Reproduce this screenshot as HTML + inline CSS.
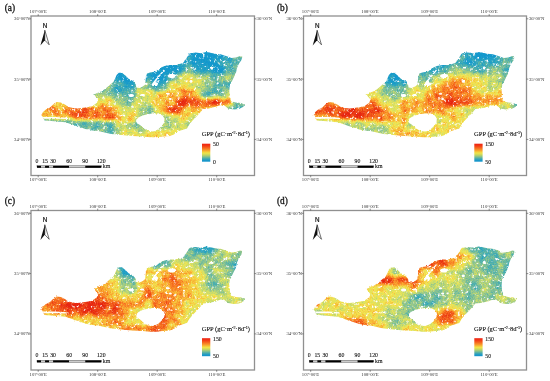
<!DOCTYPE html>
<html><head><meta charset="utf-8"><style>
html,body{margin:0;padding:0;background:#fff;width:550px;height:381px;overflow:hidden}
svg{display:block;will-change:transform}
.t{font-family:"Liberation Serif",serif;font-size:4.7px;fill:#333}
.s{font-family:"Liberation Serif",serif;font-size:5.8px;fill:#111;stroke:#111;stroke-width:0.1px}
</style></head><body>
<svg width="550" height="381" viewBox="0 0 550 381">
<defs>
<filter id="rough" filterUnits="userSpaceOnUse" x="0" y="0" width="550" height="381"><feTurbulence type="fractalNoise" baseFrequency="0.5" numOctaves="2" seed="7" result="n"/><feDisplacementMap in="SourceGraphic" in2="n" scale="2.5" xChannelSelector="R" yChannelSelector="G"/></filter>
<mask id="mapclip" maskUnits="userSpaceOnUse" x="0" y="0" width="550" height="381"><path fill="#fff" fill-rule="evenodd" filter="url(#rough)" d="M41.3,115.2 L43.0,112.0 L45.6,109.7 L50.0,107.5 L53.3,104.3 L56.5,102.0 L61.0,102.6 L65.3,104.8 L68.5,107.0 L73.0,108.0 L77.3,108.6 L81.6,108.0 L85.0,107.6 L91.5,106.5 L97.0,102.7 L98.0,99.5 L95.4,96.2 L94.3,94.5 L97.0,93.0 L101.4,91.3 L105.7,88.5 L110.0,84.7 L113.4,82.0 L115.0,78.7 L116.6,75.0 L118.8,72.7 L122.0,72.7 L125.4,75.5 L128.6,78.7 L133.0,81.0 L135.7,84.2 L136.3,87.5 L139.5,88.0 L142.8,86.4 L145.0,84.7 L146.0,76.8 L147.0,73.5 L150.0,72.5 L155.8,71.4 L160.0,68.0 L164.5,66.0 L170.0,65.0 L176.0,65.0 L183.0,63.0 L186.0,59.0 L189.0,54.0 L190.0,53.2 L195.5,52.6 L201.0,53.2 L206.0,52.0 L209.6,52.6 L215.0,53.7 L220.5,54.3 L226.0,56.0 L231.5,58.0 L236.0,57.5 L240.0,56.0 L242.4,56.5 L241.3,60.3 L239.0,63.5 L237.0,68.0 L235.8,73.4 L233.6,77.7 L231.5,82.0 L229.8,85.5 L229.3,91.0 L229.8,96.4 L231.0,101.3 L235.8,102.4 L241.3,103.0 L244.0,104.5 L243.5,106.7 L239.0,109.0 L233.6,109.5 L228.0,108.4 L223.8,105.0 L219.5,105.6 L214.0,107.3 L208.5,108.4 L203.0,109.0 L201.0,111.6 L197.0,116.0 L193.0,120.0 L189.3,124.6 L187.0,128.5 L180.5,130.6 L176.0,132.3 L174.0,134.5 L169.6,136.0 L163.0,136.6 L156.5,137.2 L150.0,137.2 L142.7,136.5 L131.8,136.0 L121.0,135.0 L110.0,133.8 L98.0,131.0 L92.5,130.5 L87.0,129.4 L81.6,127.7 L76.2,126.0 L70.7,124.0 L65.3,122.3 L54.4,121.2 L44.5,120.6 L43.5,118.5 L42.4,116.3 Z M135.5,120.5 L138.5,117.5 L142.5,115.5 L147.5,114.2 L152.5,113.4 L158.5,113.4 L162.5,115.5 L164.5,118.5 L164.2,122.5 L162.0,125.8 L158.0,129.5 L153.0,131.6 L148.0,131.0 L144.0,128.5 L140.0,125.0 L137.0,123.0 Z M43.0,117.0 L55.0,117.0 L67.0,117.7 L67.0,119.0 L55.0,118.8 L43.0,118.8 Z M163.8,69.6 L164.6,70.4 L158.0,78.5 L155.5,82.0 L158.5,83.0 L157.0,86.0 L152.5,86.0 L151.5,84.5 L154.5,80.5 Z M176.4,76.0 L175.6,77.2 L173.4,77.9 L170.6,77.9 L168.4,77.2 L167.6,76.0 L168.4,74.8 L170.6,74.1 L173.4,74.1 L175.6,74.8 Z M193.9,67.6 L193.6,68.2 L192.7,68.6 L191.7,68.6 L190.8,68.2 L190.5,67.6 L190.8,67.0 L191.7,66.6 L192.7,66.6 L193.6,67.0 Z M192.6,81.3 L192.3,82.2 L191.5,82.7 L190.5,82.7 L189.7,82.2 L189.4,81.3 L189.7,80.4 L190.5,79.9 L191.5,79.9 L192.3,80.4 Z M169.9,93.8 L169.6,94.4 L168.7,94.8 L167.7,94.8 L166.8,94.4 L166.5,93.8 L166.8,93.2 L167.7,92.8 L168.7,92.8 L169.6,93.2 Z M145.0,95.0 L144.5,95.6 L143.3,96.0 L141.7,96.0 L140.5,95.6 L140.0,95.0 L140.5,94.4 L141.7,94.0 L143.3,94.0 L144.5,94.4 Z M171.9,99.0 L171.6,99.6 L170.8,100.0 L169.8,100.0 L169.0,99.6 L168.7,99.0 L169.0,98.4 L169.8,98.0 L170.8,98.0 L171.6,98.4 Z M213.6,68.0 L213.3,68.9 L212.5,69.5 L211.5,69.5 L210.7,68.9 L210.4,68.0 L210.7,67.1 L211.5,66.5 L212.5,66.5 L213.3,67.1 Z M226.0,64.7 L225.8,65.3 L225.1,65.7 L224.3,65.7 L223.6,65.3 L223.4,64.7 L223.6,64.1 L224.3,63.7 L225.1,63.7 L225.8,64.1 Z M134.0,95.5 L133.5,96.4 L132.1,96.9 L130.5,96.9 L129.1,96.4 L128.6,95.5 L129.1,94.6 L130.5,94.1 L132.1,94.1 L133.5,94.6 Z"/></mask>
<linearGradient id="cbar" x1="0" y1="0" x2="0" y2="1"><stop offset="0" stop-color="rgb(238, 32, 18)"/><stop offset="0.12" stop-color="rgb(242, 60, 22)"/><stop offset="0.25" stop-color="rgb(246, 110, 32)"/><stop offset="0.37" stop-color="rgb(248, 160, 45)"/><stop offset="0.46" stop-color="rgb(245, 205, 60)"/><stop offset="0.52" stop-color="rgb(240, 228, 72)"/><stop offset="0.62" stop-color="rgb(200, 215, 95)"/><stop offset="0.72" stop-color="rgb(140, 195, 135)"/><stop offset="0.83" stop-color="rgb(70, 170, 175)"/><stop offset="0.93" stop-color="rgb(25, 152, 200)"/><stop offset="1" stop-color="rgb(20, 148, 205)"/></linearGradient>
<filter id="cma" filterUnits="userSpaceOnUse" x="0" y="0" width="550" height="381" color-interpolation-filters="sRGB">
<feGaussianBlur in="SourceGraphic" stdDeviation="2" result="v"/>
<feTurbulence type="fractalNoise" baseFrequency="0.15" numOctaves="2" seed="97" result="n1r"/>
<feColorMatrix in="n1r" type="matrix" values="1 0 0 0 0 1 0 0 0 0 1 0 0 0 0 0 0 0 0 1" result="n1"/>
<feTurbulence type="fractalNoise" baseFrequency="0.8" numOctaves="1" seed="107" result="n2r"/>
<feColorMatrix in="n2r" type="matrix" values="1 0 0 0 0 1 0 0 0 0 1 0 0 0 0 0 0 0 0 1" result="n2"/>
<feComposite in="v" in2="n1" operator="arithmetic" k1="0" k2="1" k3="0.35" k4="-0.175" result="v1"/>
<feComposite in="v1" in2="n2" operator="arithmetic" k1="0" k2="1" k3="0.3" k4="-0.15" result="v2"/>
<feComponentTransfer in="v2" result="col">
<feFuncR type="table" tableValues="0.071 0.157 0.333 0.549 0.792 0.949 0.973 0.976 0.941 0.902"/>
<feFuncG type="table" tableValues="0.596 0.639 0.698 0.769 0.863 0.902 0.718 0.510 0.306 0.149"/>
<feFuncB type="table" tableValues="0.808 0.765 0.667 0.569 0.424 0.322 0.212 0.149 0.098 0.071"/>
<feFuncA type="linear" slope="0" intercept="1"/>
</feComponentTransfer>
<feTurbulence type="fractalNoise" baseFrequency="0.35" numOctaves="2" seed="117" result="n3r"/>
<feColorMatrix in="n3r" type="matrix" values="0 0 0 0 1 0 0 0 0 1 0 0 0 0 1 5 0 0 0 -3.0" result="spk"/>
<feMerge><feMergeNode in="col"/><feMergeNode in="spk"/></feMerge>
</filter><filter id="cmb" filterUnits="userSpaceOnUse" x="0" y="0" width="550" height="381" color-interpolation-filters="sRGB">
<feGaussianBlur in="SourceGraphic" stdDeviation="2" result="v"/>
<feTurbulence type="fractalNoise" baseFrequency="0.15" numOctaves="2" seed="98" result="n1r"/>
<feColorMatrix in="n1r" type="matrix" values="1 0 0 0 0 1 0 0 0 0 1 0 0 0 0 0 0 0 0 1" result="n1"/>
<feTurbulence type="fractalNoise" baseFrequency="0.8" numOctaves="1" seed="108" result="n2r"/>
<feColorMatrix in="n2r" type="matrix" values="1 0 0 0 0 1 0 0 0 0 1 0 0 0 0 0 0 0 0 1" result="n2"/>
<feComposite in="v" in2="n1" operator="arithmetic" k1="0" k2="1" k3="0.35" k4="-0.175" result="v1"/>
<feComposite in="v1" in2="n2" operator="arithmetic" k1="0" k2="1" k3="0.3" k4="-0.15" result="v2"/>
<feComponentTransfer in="v2" result="col">
<feFuncR type="table" tableValues="0.071 0.157 0.333 0.549 0.792 0.949 0.973 0.976 0.941 0.902"/>
<feFuncG type="table" tableValues="0.596 0.639 0.698 0.769 0.863 0.902 0.718 0.510 0.306 0.149"/>
<feFuncB type="table" tableValues="0.808 0.765 0.667 0.569 0.424 0.322 0.212 0.149 0.098 0.071"/>
<feFuncA type="linear" slope="0" intercept="1"/>
</feComponentTransfer>
<feTurbulence type="fractalNoise" baseFrequency="0.35" numOctaves="2" seed="118" result="n3r"/>
<feColorMatrix in="n3r" type="matrix" values="0 0 0 0 1 0 0 0 0 1 0 0 0 0 1 5 0 0 0 -3.0" result="spk"/>
<feMerge><feMergeNode in="col"/><feMergeNode in="spk"/></feMerge>
</filter><filter id="cmc" filterUnits="userSpaceOnUse" x="0" y="0" width="550" height="381" color-interpolation-filters="sRGB">
<feGaussianBlur in="SourceGraphic" stdDeviation="2" result="v"/>
<feTurbulence type="fractalNoise" baseFrequency="0.15" numOctaves="2" seed="99" result="n1r"/>
<feColorMatrix in="n1r" type="matrix" values="1 0 0 0 0 1 0 0 0 0 1 0 0 0 0 0 0 0 0 1" result="n1"/>
<feTurbulence type="fractalNoise" baseFrequency="0.8" numOctaves="1" seed="109" result="n2r"/>
<feColorMatrix in="n2r" type="matrix" values="1 0 0 0 0 1 0 0 0 0 1 0 0 0 0 0 0 0 0 1" result="n2"/>
<feComposite in="v" in2="n1" operator="arithmetic" k1="0" k2="1" k3="0.35" k4="-0.175" result="v1"/>
<feComposite in="v1" in2="n2" operator="arithmetic" k1="0" k2="1" k3="0.3" k4="-0.15" result="v2"/>
<feComponentTransfer in="v2" result="col">
<feFuncR type="table" tableValues="0.071 0.157 0.333 0.549 0.792 0.949 0.973 0.976 0.941 0.902"/>
<feFuncG type="table" tableValues="0.596 0.639 0.698 0.769 0.863 0.902 0.718 0.510 0.306 0.149"/>
<feFuncB type="table" tableValues="0.808 0.765 0.667 0.569 0.424 0.322 0.212 0.149 0.098 0.071"/>
<feFuncA type="linear" slope="0" intercept="1"/>
</feComponentTransfer>
<feTurbulence type="fractalNoise" baseFrequency="0.35" numOctaves="2" seed="119" result="n3r"/>
<feColorMatrix in="n3r" type="matrix" values="0 0 0 0 1 0 0 0 0 1 0 0 0 0 1 5 0 0 0 -3.0" result="spk"/>
<feMerge><feMergeNode in="col"/><feMergeNode in="spk"/></feMerge>
</filter><filter id="cmd" filterUnits="userSpaceOnUse" x="0" y="0" width="550" height="381" color-interpolation-filters="sRGB">
<feGaussianBlur in="SourceGraphic" stdDeviation="2" result="v"/>
<feTurbulence type="fractalNoise" baseFrequency="0.15" numOctaves="2" seed="100" result="n1r"/>
<feColorMatrix in="n1r" type="matrix" values="1 0 0 0 0 1 0 0 0 0 1 0 0 0 0 0 0 0 0 1" result="n1"/>
<feTurbulence type="fractalNoise" baseFrequency="0.8" numOctaves="1" seed="110" result="n2r"/>
<feColorMatrix in="n2r" type="matrix" values="1 0 0 0 0 1 0 0 0 0 1 0 0 0 0 0 0 0 0 1" result="n2"/>
<feComposite in="v" in2="n1" operator="arithmetic" k1="0" k2="1" k3="0.35" k4="-0.175" result="v1"/>
<feComposite in="v1" in2="n2" operator="arithmetic" k1="0" k2="1" k3="0.3" k4="-0.15" result="v2"/>
<feComponentTransfer in="v2" result="col">
<feFuncR type="table" tableValues="0.071 0.157 0.333 0.549 0.792 0.949 0.973 0.976 0.941 0.902"/>
<feFuncG type="table" tableValues="0.596 0.639 0.698 0.769 0.863 0.902 0.718 0.510 0.306 0.149"/>
<feFuncB type="table" tableValues="0.808 0.765 0.667 0.569 0.424 0.322 0.212 0.149 0.098 0.071"/>
<feFuncA type="linear" slope="0" intercept="1"/>
</feComponentTransfer>
<feTurbulence type="fractalNoise" baseFrequency="0.35" numOctaves="2" seed="120" result="n3r"/>
<feColorMatrix in="n3r" type="matrix" values="0 0 0 0 1 0 0 0 0 1 0 0 0 0 1 5 0 0 0 -3.0" result="spk"/>
<feMerge><feMergeNode in="col"/><feMergeNode in="spk"/></feMerge>
</filter>
</defs>
<rect width="550" height="381" fill="#fff"/>
<g transform="translate(0,0)">
<text x="4.7" y="11.40" font-family="Liberation Serif" font-size="9.3" fill="#111" stroke="#111" stroke-width="0.28">(a)</text>
<text x="38.2" y="13.0" text-anchor="middle" class="t">107°00'E</text>
<text x="38.2" y="181.4" text-anchor="middle" class="t">107°00'E</text>
<text x="97.7" y="13.0" text-anchor="middle" class="t">108°00'E</text>
<text x="97.7" y="181.4" text-anchor="middle" class="t">108°00'E</text>
<text x="157.2" y="13.0" text-anchor="middle" class="t">109°00'E</text>
<text x="157.2" y="181.4" text-anchor="middle" class="t">109°00'E</text>
<text x="216.7" y="13.0" text-anchor="middle" class="t">110°00'E</text>
<text x="216.7" y="181.4" text-anchor="middle" class="t">110°00'E</text>
<text x="29.6" y="20.3" text-anchor="end" class="t">36°00'N</text>
<text x="256.6" y="20.3" class="t">36°00'N</text>
<text x="29.6" y="80.6" text-anchor="end" class="t">35°00'N</text>
<text x="256.6" y="80.6" class="t">35°00'N</text>
<text x="29.6" y="140.9" text-anchor="end" class="t">34°00'N</text>
<text x="256.6" y="140.9" class="t">34°00'N</text>
<text x="45" y="27.9" text-anchor="middle" font-family="Liberation Sans" font-size="6.3" fill="#111" stroke="#111" stroke-width="0.2">N</text>
<path d="M44.8,30.2 L40.4,45.6 L44.8,40.2 Z" fill="#111"/>
<path d="M44.8,30.2 L49.2,44.8 L44.8,40.2 Z" fill="none" stroke="#111" stroke-width="0.6" stroke-linejoin="round"/>
<g mask="url(#mapclip)"><g filter="url(#cma)">
<rect x="32" y="42" width="24" height="8" fill="rgb(170,170,170)"/><rect x="56" y="42" width="16" height="8" fill="rgb(142,142,142)"/><rect x="72" y="42" width="64" height="8" fill="rgb(0,0,0)"/><rect x="136" y="42" width="16" height="8" fill="rgb(28,28,28)"/><rect x="152" y="42" width="80" height="8" fill="rgb(0,0,0)"/><rect x="232" y="42" width="24" height="8" fill="rgb(57,57,57)"/><rect x="32" y="50" width="24" height="8" fill="rgb(170,170,170)"/><rect x="56" y="50" width="16" height="8" fill="rgb(142,142,142)"/><rect x="72" y="50" width="64" height="8" fill="rgb(0,0,0)"/><rect x="136" y="50" width="16" height="8" fill="rgb(28,28,28)"/><rect x="152" y="50" width="80" height="8" fill="rgb(0,0,0)"/><rect x="232" y="50" width="24" height="8" fill="rgb(57,57,57)"/><rect x="32" y="58" width="24" height="8" fill="rgb(170,170,170)"/><rect x="56" y="58" width="16" height="8" fill="rgb(142,142,142)"/><rect x="72" y="58" width="64" height="8" fill="rgb(0,0,0)"/><rect x="136" y="58" width="16" height="8" fill="rgb(28,28,28)"/><rect x="152" y="58" width="24" height="8" fill="rgb(0,0,0)"/><rect x="176" y="58" width="16" height="8" fill="rgb(28,28,28)"/><rect x="192" y="58" width="24" height="8" fill="rgb(0,0,0)"/><rect x="216" y="58" width="8" height="8" fill="rgb(28,28,28)"/><rect x="224" y="58" width="32" height="8" fill="rgb(57,57,57)"/><rect x="32" y="66" width="24" height="8" fill="rgb(170,170,170)"/><rect x="56" y="66" width="16" height="8" fill="rgb(142,142,142)"/><rect x="72" y="66" width="64" height="8" fill="rgb(0,0,0)"/><rect x="136" y="66" width="16" height="8" fill="rgb(28,28,28)"/><rect x="152" y="66" width="24" height="8" fill="rgb(0,0,0)"/><rect x="176" y="66" width="8" height="8" fill="rgb(28,28,28)"/><rect x="184" y="66" width="8" height="8" fill="rgb(85,85,85)"/><rect x="192" y="66" width="24" height="8" fill="rgb(28,28,28)"/><rect x="216" y="66" width="8" height="8" fill="rgb(0,0,0)"/><rect x="224" y="66" width="32" height="8" fill="rgb(57,57,57)"/><rect x="32" y="74" width="24" height="8" fill="rgb(170,170,170)"/><rect x="56" y="74" width="16" height="8" fill="rgb(142,142,142)"/><rect x="72" y="74" width="24" height="8" fill="rgb(85,85,85)"/><rect x="96" y="74" width="24" height="8" fill="rgb(28,28,28)"/><rect x="120" y="74" width="16" height="8" fill="rgb(0,0,0)"/><rect x="136" y="74" width="8" height="8" fill="rgb(57,57,57)"/><rect x="144" y="74" width="8" height="8" fill="rgb(28,28,28)"/><rect x="152" y="74" width="16" height="8" fill="rgb(0,0,0)"/><rect x="168" y="74" width="8" height="8" fill="rgb(57,57,57)"/><rect x="176" y="74" width="8" height="8" fill="rgb(113,113,113)"/><rect x="184" y="74" width="16" height="8" fill="rgb(142,142,142)"/><rect x="200" y="74" width="8" height="8" fill="rgb(113,113,113)"/><rect x="208" y="74" width="8" height="8" fill="rgb(57,57,57)"/><rect x="216" y="74" width="8" height="8" fill="rgb(85,85,85)"/><rect x="224" y="74" width="8" height="8" fill="rgb(113,113,113)"/><rect x="232" y="74" width="24" height="8" fill="rgb(57,57,57)"/><rect x="32" y="82" width="24" height="8" fill="rgb(170,170,170)"/><rect x="56" y="82" width="16" height="8" fill="rgb(142,142,142)"/><rect x="72" y="82" width="40" height="8" fill="rgb(85,85,85)"/><rect x="112" y="82" width="8" height="8" fill="rgb(57,57,57)"/><rect x="120" y="82" width="16" height="8" fill="rgb(28,28,28)"/><rect x="136" y="82" width="8" height="8" fill="rgb(113,113,113)"/><rect x="144" y="82" width="8" height="8" fill="rgb(85,85,85)"/><rect x="152" y="82" width="8" height="8" fill="rgb(28,28,28)"/><rect x="160" y="82" width="8" height="8" fill="rgb(57,57,57)"/><rect x="168" y="82" width="24" height="8" fill="rgb(142,142,142)"/><rect x="192" y="82" width="8" height="8" fill="rgb(113,113,113)"/><rect x="200" y="82" width="16" height="8" fill="rgb(85,85,85)"/><rect x="216" y="82" width="40" height="8" fill="rgb(57,57,57)"/><rect x="32" y="90" width="24" height="8" fill="rgb(170,170,170)"/><rect x="56" y="90" width="16" height="8" fill="rgb(142,142,142)"/><rect x="72" y="90" width="40" height="8" fill="rgb(85,85,85)"/><rect x="112" y="90" width="24" height="8" fill="rgb(57,57,57)"/><rect x="136" y="90" width="24" height="8" fill="rgb(142,142,142)"/><rect x="160" y="90" width="24" height="8" fill="rgb(170,170,170)"/><rect x="184" y="90" width="8" height="8" fill="rgb(198,198,198)"/><rect x="192" y="90" width="8" height="8" fill="rgb(170,170,170)"/><rect x="200" y="90" width="24" height="8" fill="rgb(57,57,57)"/><rect x="224" y="90" width="32" height="8" fill="rgb(113,113,113)"/><rect x="32" y="98" width="24" height="8" fill="rgb(170,170,170)"/><rect x="56" y="98" width="24" height="8" fill="rgb(142,142,142)"/><rect x="80" y="98" width="16" height="8" fill="rgb(113,113,113)"/><rect x="96" y="98" width="8" height="8" fill="rgb(142,142,142)"/><rect x="104" y="98" width="8" height="8" fill="rgb(170,170,170)"/><rect x="112" y="98" width="8" height="8" fill="rgb(113,113,113)"/><rect x="120" y="98" width="16" height="8" fill="rgb(85,85,85)"/><rect x="136" y="98" width="16" height="8" fill="rgb(113,113,113)"/><rect x="152" y="98" width="24" height="8" fill="rgb(170,170,170)"/><rect x="176" y="98" width="8" height="8" fill="rgb(227,227,227)"/><rect x="184" y="98" width="8" height="8" fill="rgb(255,255,255)"/><rect x="192" y="98" width="8" height="8" fill="rgb(227,227,227)"/><rect x="200" y="98" width="8" height="8" fill="rgb(198,198,198)"/><rect x="208" y="98" width="16" height="8" fill="rgb(227,227,227)"/><rect x="224" y="98" width="8" height="8" fill="rgb(198,198,198)"/><rect x="232" y="98" width="24" height="8" fill="rgb(57,57,57)"/><rect x="32" y="106" width="16" height="8" fill="rgb(170,170,170)"/><rect x="48" y="106" width="8" height="8" fill="rgb(198,198,198)"/><rect x="56" y="106" width="8" height="8" fill="rgb(170,170,170)"/><rect x="64" y="106" width="8" height="8" fill="rgb(198,198,198)"/><rect x="72" y="106" width="16" height="8" fill="rgb(227,227,227)"/><rect x="88" y="106" width="24" height="8" fill="rgb(198,198,198)"/><rect x="112" y="106" width="8" height="8" fill="rgb(170,170,170)"/><rect x="120" y="106" width="8" height="8" fill="rgb(113,113,113)"/><rect x="128" y="106" width="8" height="8" fill="rgb(142,142,142)"/><rect x="136" y="106" width="8" height="8" fill="rgb(113,113,113)"/><rect x="144" y="106" width="8" height="8" fill="rgb(85,85,85)"/><rect x="152" y="106" width="8" height="8" fill="rgb(113,113,113)"/><rect x="160" y="106" width="8" height="8" fill="rgb(198,198,198)"/><rect x="168" y="106" width="16" height="8" fill="rgb(227,227,227)"/><rect x="184" y="106" width="8" height="8" fill="rgb(142,142,142)"/><rect x="192" y="106" width="8" height="8" fill="rgb(170,170,170)"/><rect x="200" y="106" width="8" height="8" fill="rgb(198,198,198)"/><rect x="208" y="106" width="8" height="8" fill="rgb(170,170,170)"/><rect x="216" y="106" width="16" height="8" fill="rgb(85,85,85)"/><rect x="232" y="106" width="24" height="8" fill="rgb(57,57,57)"/><rect x="32" y="114" width="24" height="8" fill="rgb(170,170,170)"/><rect x="56" y="114" width="16" height="8" fill="rgb(198,198,198)"/><rect x="72" y="114" width="16" height="8" fill="rgb(227,227,227)"/><rect x="88" y="114" width="16" height="8" fill="rgb(198,198,198)"/><rect x="104" y="114" width="8" height="8" fill="rgb(227,227,227)"/><rect x="112" y="114" width="8" height="8" fill="rgb(198,198,198)"/><rect x="120" y="114" width="8" height="8" fill="rgb(142,142,142)"/><rect x="128" y="114" width="8" height="8" fill="rgb(170,170,170)"/><rect x="136" y="114" width="32" height="8" fill="rgb(85,85,85)"/><rect x="168" y="114" width="8" height="8" fill="rgb(113,113,113)"/><rect x="176" y="114" width="16" height="8" fill="rgb(142,142,142)"/><rect x="192" y="114" width="16" height="8" fill="rgb(113,113,113)"/><rect x="208" y="114" width="8" height="8" fill="rgb(170,170,170)"/><rect x="216" y="114" width="16" height="8" fill="rgb(85,85,85)"/><rect x="232" y="114" width="24" height="8" fill="rgb(57,57,57)"/><rect x="32" y="122" width="32" height="8" fill="rgb(57,57,57)"/><rect x="64" y="122" width="16" height="8" fill="rgb(85,85,85)"/><rect x="80" y="122" width="8" height="8" fill="rgb(57,57,57)"/><rect x="88" y="122" width="16" height="8" fill="rgb(85,85,85)"/><rect x="104" y="122" width="8" height="8" fill="rgb(113,113,113)"/><rect x="112" y="122" width="8" height="8" fill="rgb(170,170,170)"/><rect x="120" y="122" width="8" height="8" fill="rgb(113,113,113)"/><rect x="128" y="122" width="40" height="8" fill="rgb(85,85,85)"/><rect x="168" y="122" width="40" height="8" fill="rgb(113,113,113)"/><rect x="208" y="122" width="8" height="8" fill="rgb(170,170,170)"/><rect x="216" y="122" width="16" height="8" fill="rgb(85,85,85)"/><rect x="232" y="122" width="24" height="8" fill="rgb(57,57,57)"/><rect x="32" y="130" width="32" height="8" fill="rgb(57,57,57)"/><rect x="64" y="130" width="8" height="8" fill="rgb(85,85,85)"/><rect x="72" y="130" width="16" height="8" fill="rgb(57,57,57)"/><rect x="88" y="130" width="8" height="8" fill="rgb(85,85,85)"/><rect x="96" y="130" width="8" height="8" fill="rgb(57,57,57)"/><rect x="104" y="130" width="16" height="8" fill="rgb(85,85,85)"/><rect x="120" y="130" width="16" height="8" fill="rgb(142,142,142)"/><rect x="136" y="130" width="8" height="8" fill="rgb(113,113,113)"/><rect x="144" y="130" width="16" height="8" fill="rgb(142,142,142)"/><rect x="160" y="130" width="8" height="8" fill="rgb(170,170,170)"/><rect x="168" y="130" width="8" height="8" fill="rgb(142,142,142)"/><rect x="176" y="130" width="32" height="8" fill="rgb(113,113,113)"/><rect x="208" y="130" width="8" height="8" fill="rgb(170,170,170)"/><rect x="216" y="130" width="16" height="8" fill="rgb(85,85,85)"/><rect x="232" y="130" width="24" height="8" fill="rgb(57,57,57)"/><rect x="32" y="138" width="32" height="8" fill="rgb(57,57,57)"/><rect x="64" y="138" width="8" height="8" fill="rgb(85,85,85)"/><rect x="72" y="138" width="16" height="8" fill="rgb(57,57,57)"/><rect x="88" y="138" width="8" height="8" fill="rgb(85,85,85)"/><rect x="96" y="138" width="8" height="8" fill="rgb(57,57,57)"/><rect x="104" y="138" width="16" height="8" fill="rgb(85,85,85)"/><rect x="120" y="138" width="16" height="8" fill="rgb(142,142,142)"/><rect x="136" y="138" width="8" height="8" fill="rgb(113,113,113)"/><rect x="144" y="138" width="16" height="8" fill="rgb(142,142,142)"/><rect x="160" y="138" width="8" height="8" fill="rgb(170,170,170)"/><rect x="168" y="138" width="8" height="8" fill="rgb(142,142,142)"/><rect x="176" y="138" width="32" height="8" fill="rgb(113,113,113)"/><rect x="208" y="138" width="8" height="8" fill="rgb(170,170,170)"/><rect x="216" y="138" width="16" height="8" fill="rgb(85,85,85)"/><rect x="232" y="138" width="24" height="8" fill="rgb(57,57,57)"/>
<polygon points="38.0,118.2 66.0,118.8 75.0,119.6 90.0,120.2 105.0,120.8 118.0,122.0 118.0,142.0 38.0,142.0" fill="rgb(65,65,65)"/>
</g></g>
<text x="201.8" y="136.4" font-family="Liberation Serif" font-size="6.5" fill="#111" stroke="#111" stroke-width="0.12">GPP (gC·m<tspan dy="-2" font-size="4.2">-2</tspan><tspan dy="2">·8d</tspan><tspan dy="-2" font-size="4.2">-1</tspan><tspan dy="2">)</tspan></text>
<rect x="202" y="143.7" width="8.3" height="18" fill="url(#cbar)"/>
<text x="213" y="146.4" class="s">50</text>
<text x="213" y="163.6" class="s">0</text>
<text x="37.00" y="162.8" text-anchor="middle" class="s">0</text>
<text x="45.04" y="162.8" text-anchor="middle" class="s">15</text>
<text x="53.08" y="162.8" text-anchor="middle" class="s">30</text>
<text x="69.15" y="162.8" text-anchor="middle" class="s">60</text>
<text x="85.22" y="162.8" text-anchor="middle" class="s">90</text>
<text x="101.30" y="162.8" text-anchor="middle" class="s">120</text>
<rect x="37.00" y="165.8" width="4.02" height="2.0" fill="#000"/>
<rect x="41.02" y="165.8" width="4.02" height="2.0" fill="#ccc"/>
<rect x="45.04" y="165.8" width="4.02" height="2.0" fill="#000"/>
<rect x="49.06" y="165.8" width="4.02" height="2.0" fill="#ccc"/>
<rect x="53.08" y="165.8" width="16.07" height="2.0" fill="#000"/>
<rect x="69.15" y="165.8" width="16.07" height="2.0" fill="#ccc"/>
<rect x="85.22" y="165.8" width="16.07" height="2.0" fill="#000"/>
<rect x="37.0" y="165.8" width="64.30" height="2.0" fill="none" stroke="#000" stroke-width="0.3"/>
<text x="102.80" y="168" class="s">km</text>
</g>
<rect x="31" y="16" width="223.5" height="159.5" fill="none" stroke="#909090" stroke-width="1.3"/>
<line x1="38.2" y1="14.2" x2="38.2" y2="16" stroke="#444" stroke-width="0.6"/>
<line x1="38.2" y1="175.5" x2="38.2" y2="177.3" stroke="#444" stroke-width="0.6"/>
<line x1="97.7" y1="14.2" x2="97.7" y2="16" stroke="#444" stroke-width="0.6"/>
<line x1="97.7" y1="175.5" x2="97.7" y2="177.3" stroke="#444" stroke-width="0.6"/>
<line x1="157.2" y1="14.2" x2="157.2" y2="16" stroke="#444" stroke-width="0.6"/>
<line x1="157.2" y1="175.5" x2="157.2" y2="177.3" stroke="#444" stroke-width="0.6"/>
<line x1="216.7" y1="14.2" x2="216.7" y2="16" stroke="#444" stroke-width="0.6"/>
<line x1="216.7" y1="175.5" x2="216.7" y2="177.3" stroke="#444" stroke-width="0.6"/>
<line x1="29.2" y1="18.8" x2="31" y2="18.8" stroke="#444" stroke-width="0.6"/>
<line x1="254.5" y1="18.8" x2="256.3" y2="18.8" stroke="#444" stroke-width="0.6"/>
<line x1="29.2" y1="79.1" x2="31" y2="79.1" stroke="#444" stroke-width="0.6"/>
<line x1="254.5" y1="79.1" x2="256.3" y2="79.1" stroke="#444" stroke-width="0.6"/>
<line x1="29.2" y1="139.4" x2="31" y2="139.4" stroke="#444" stroke-width="0.6"/>
<line x1="254.5" y1="139.4" x2="256.3" y2="139.4" stroke="#444" stroke-width="0.6"/><g transform="translate(272.3,0)">
<text x="4.7" y="11.40" font-family="Liberation Serif" font-size="9.3" fill="#111" stroke="#111" stroke-width="0.28">(b)</text>
<text x="38.2" y="13.0" text-anchor="middle" class="t">107°00'E</text>
<text x="38.2" y="181.4" text-anchor="middle" class="t">107°00'E</text>
<text x="97.7" y="13.0" text-anchor="middle" class="t">108°00'E</text>
<text x="97.7" y="181.4" text-anchor="middle" class="t">108°00'E</text>
<text x="157.2" y="13.0" text-anchor="middle" class="t">109°00'E</text>
<text x="157.2" y="181.4" text-anchor="middle" class="t">109°00'E</text>
<text x="216.7" y="13.0" text-anchor="middle" class="t">110°00'E</text>
<text x="216.7" y="181.4" text-anchor="middle" class="t">110°00'E</text>
<text x="29.6" y="20.3" text-anchor="end" class="t">36°00'N</text>
<text x="256.6" y="20.3" class="t">36°00'N</text>
<text x="29.6" y="80.6" text-anchor="end" class="t">35°00'N</text>
<text x="256.6" y="80.6" class="t">35°00'N</text>
<text x="29.6" y="140.9" text-anchor="end" class="t">34°00'N</text>
<text x="256.6" y="140.9" class="t">34°00'N</text>
<text x="45" y="27.9" text-anchor="middle" font-family="Liberation Sans" font-size="6.3" fill="#111" stroke="#111" stroke-width="0.2">N</text>
<path d="M44.8,30.2 L40.4,45.6 L44.8,40.2 Z" fill="#111"/>
<path d="M44.8,30.2 L49.2,44.8 L44.8,40.2 Z" fill="none" stroke="#111" stroke-width="0.6" stroke-linejoin="round"/>
<g mask="url(#mapclip)"><g filter="url(#cmb)">
<rect x="32" y="42" width="32" height="8" fill="rgb(198,198,198)"/><rect x="64" y="42" width="8" height="8" fill="rgb(170,170,170)"/><rect x="72" y="42" width="64" height="8" fill="rgb(0,0,0)"/><rect x="136" y="42" width="16" height="8" fill="rgb(57,57,57)"/><rect x="152" y="42" width="48" height="8" fill="rgb(28,28,28)"/><rect x="200" y="42" width="24" height="8" fill="rgb(0,0,0)"/><rect x="224" y="42" width="8" height="8" fill="rgb(28,28,28)"/><rect x="232" y="42" width="24" height="8" fill="rgb(57,57,57)"/><rect x="32" y="50" width="32" height="8" fill="rgb(198,198,198)"/><rect x="64" y="50" width="8" height="8" fill="rgb(170,170,170)"/><rect x="72" y="50" width="64" height="8" fill="rgb(0,0,0)"/><rect x="136" y="50" width="16" height="8" fill="rgb(57,57,57)"/><rect x="152" y="50" width="48" height="8" fill="rgb(28,28,28)"/><rect x="200" y="50" width="24" height="8" fill="rgb(0,0,0)"/><rect x="224" y="50" width="8" height="8" fill="rgb(28,28,28)"/><rect x="232" y="50" width="24" height="8" fill="rgb(57,57,57)"/><rect x="32" y="58" width="32" height="8" fill="rgb(198,198,198)"/><rect x="64" y="58" width="8" height="8" fill="rgb(170,170,170)"/><rect x="72" y="58" width="64" height="8" fill="rgb(0,0,0)"/><rect x="136" y="58" width="16" height="8" fill="rgb(57,57,57)"/><rect x="152" y="58" width="24" height="8" fill="rgb(28,28,28)"/><rect x="176" y="58" width="16" height="8" fill="rgb(57,57,57)"/><rect x="192" y="58" width="32" height="8" fill="rgb(28,28,28)"/><rect x="224" y="58" width="8" height="8" fill="rgb(57,57,57)"/><rect x="232" y="58" width="8" height="8" fill="rgb(85,85,85)"/><rect x="240" y="58" width="16" height="8" fill="rgb(57,57,57)"/><rect x="32" y="66" width="32" height="8" fill="rgb(198,198,198)"/><rect x="64" y="66" width="8" height="8" fill="rgb(170,170,170)"/><rect x="72" y="66" width="64" height="8" fill="rgb(0,0,0)"/><rect x="136" y="66" width="16" height="8" fill="rgb(57,57,57)"/><rect x="152" y="66" width="24" height="8" fill="rgb(28,28,28)"/><rect x="176" y="66" width="16" height="8" fill="rgb(85,85,85)"/><rect x="192" y="66" width="24" height="8" fill="rgb(57,57,57)"/><rect x="216" y="66" width="16" height="8" fill="rgb(85,85,85)"/><rect x="232" y="66" width="24" height="8" fill="rgb(57,57,57)"/><rect x="32" y="74" width="32" height="8" fill="rgb(198,198,198)"/><rect x="64" y="74" width="8" height="8" fill="rgb(170,170,170)"/><rect x="72" y="74" width="24" height="8" fill="rgb(142,142,142)"/><rect x="96" y="74" width="24" height="8" fill="rgb(28,28,28)"/><rect x="120" y="74" width="16" height="8" fill="rgb(0,0,0)"/><rect x="136" y="74" width="8" height="8" fill="rgb(85,85,85)"/><rect x="144" y="74" width="16" height="8" fill="rgb(57,57,57)"/><rect x="160" y="74" width="8" height="8" fill="rgb(113,113,113)"/><rect x="168" y="74" width="8" height="8" fill="rgb(142,142,142)"/><rect x="176" y="74" width="24" height="8" fill="rgb(170,170,170)"/><rect x="200" y="74" width="16" height="8" fill="rgb(142,142,142)"/><rect x="216" y="74" width="8" height="8" fill="rgb(113,113,113)"/><rect x="224" y="74" width="8" height="8" fill="rgb(85,85,85)"/><rect x="232" y="74" width="24" height="8" fill="rgb(57,57,57)"/><rect x="32" y="82" width="32" height="8" fill="rgb(198,198,198)"/><rect x="64" y="82" width="8" height="8" fill="rgb(170,170,170)"/><rect x="72" y="82" width="24" height="8" fill="rgb(142,142,142)"/><rect x="96" y="82" width="16" height="8" fill="rgb(113,113,113)"/><rect x="112" y="82" width="24" height="8" fill="rgb(57,57,57)"/><rect x="136" y="82" width="8" height="8" fill="rgb(142,142,142)"/><rect x="144" y="82" width="8" height="8" fill="rgb(113,113,113)"/><rect x="152" y="82" width="8" height="8" fill="rgb(142,142,142)"/><rect x="160" y="82" width="8" height="8" fill="rgb(170,170,170)"/><rect x="168" y="82" width="24" height="8" fill="rgb(198,198,198)"/><rect x="192" y="82" width="8" height="8" fill="rgb(170,170,170)"/><rect x="200" y="82" width="16" height="8" fill="rgb(142,142,142)"/><rect x="216" y="82" width="16" height="8" fill="rgb(113,113,113)"/><rect x="232" y="82" width="24" height="8" fill="rgb(57,57,57)"/><rect x="32" y="90" width="32" height="8" fill="rgb(198,198,198)"/><rect x="64" y="90" width="8" height="8" fill="rgb(170,170,170)"/><rect x="72" y="90" width="32" height="8" fill="rgb(142,142,142)"/><rect x="104" y="90" width="8" height="8" fill="rgb(113,113,113)"/><rect x="112" y="90" width="24" height="8" fill="rgb(85,85,85)"/><rect x="136" y="90" width="16" height="8" fill="rgb(142,142,142)"/><rect x="152" y="90" width="8" height="8" fill="rgb(170,170,170)"/><rect x="160" y="90" width="16" height="8" fill="rgb(198,198,198)"/><rect x="176" y="90" width="8" height="8" fill="rgb(227,227,227)"/><rect x="184" y="90" width="16" height="8" fill="rgb(198,198,198)"/><rect x="200" y="90" width="8" height="8" fill="rgb(170,170,170)"/><rect x="208" y="90" width="16" height="8" fill="rgb(142,142,142)"/><rect x="224" y="90" width="8" height="8" fill="rgb(170,170,170)"/><rect x="232" y="90" width="24" height="8" fill="rgb(142,142,142)"/><rect x="32" y="98" width="32" height="8" fill="rgb(198,198,198)"/><rect x="64" y="98" width="32" height="8" fill="rgb(170,170,170)"/><rect x="96" y="98" width="8" height="8" fill="rgb(198,198,198)"/><rect x="104" y="98" width="8" height="8" fill="rgb(170,170,170)"/><rect x="112" y="98" width="16" height="8" fill="rgb(113,113,113)"/><rect x="128" y="98" width="24" height="8" fill="rgb(170,170,170)"/><rect x="152" y="98" width="16" height="8" fill="rgb(198,198,198)"/><rect x="168" y="98" width="8" height="8" fill="rgb(227,227,227)"/><rect x="176" y="98" width="8" height="8" fill="rgb(255,255,255)"/><rect x="184" y="98" width="16" height="8" fill="rgb(227,227,227)"/><rect x="200" y="98" width="32" height="8" fill="rgb(198,198,198)"/><rect x="232" y="98" width="8" height="8" fill="rgb(113,113,113)"/><rect x="240" y="98" width="16" height="8" fill="rgb(85,85,85)"/><rect x="32" y="106" width="40" height="8" fill="rgb(227,227,227)"/><rect x="72" y="106" width="16" height="8" fill="rgb(255,255,255)"/><rect x="88" y="106" width="24" height="8" fill="rgb(227,227,227)"/><rect x="112" y="106" width="8" height="8" fill="rgb(170,170,170)"/><rect x="120" y="106" width="8" height="8" fill="rgb(142,142,142)"/><rect x="128" y="106" width="8" height="8" fill="rgb(198,198,198)"/><rect x="136" y="106" width="16" height="8" fill="rgb(170,170,170)"/><rect x="152" y="106" width="24" height="8" fill="rgb(198,198,198)"/><rect x="176" y="106" width="8" height="8" fill="rgb(170,170,170)"/><rect x="184" y="106" width="8" height="8" fill="rgb(142,142,142)"/><rect x="192" y="106" width="24" height="8" fill="rgb(113,113,113)"/><rect x="216" y="106" width="16" height="8" fill="rgb(85,85,85)"/><rect x="232" y="106" width="8" height="8" fill="rgb(113,113,113)"/><rect x="240" y="106" width="16" height="8" fill="rgb(85,85,85)"/><rect x="32" y="114" width="24" height="8" fill="rgb(198,198,198)"/><rect x="56" y="114" width="8" height="8" fill="rgb(227,227,227)"/><rect x="64" y="114" width="24" height="8" fill="rgb(255,255,255)"/><rect x="88" y="114" width="24" height="8" fill="rgb(227,227,227)"/><rect x="112" y="114" width="8" height="8" fill="rgb(198,198,198)"/><rect x="120" y="114" width="8" height="8" fill="rgb(170,170,170)"/><rect x="128" y="114" width="8" height="8" fill="rgb(198,198,198)"/><rect x="136" y="114" width="8" height="8" fill="rgb(113,113,113)"/><rect x="144" y="114" width="16" height="8" fill="rgb(142,142,142)"/><rect x="160" y="114" width="8" height="8" fill="rgb(113,113,113)"/><rect x="168" y="114" width="8" height="8" fill="rgb(142,142,142)"/><rect x="176" y="114" width="8" height="8" fill="rgb(170,170,170)"/><rect x="184" y="114" width="24" height="8" fill="rgb(142,142,142)"/><rect x="208" y="114" width="8" height="8" fill="rgb(113,113,113)"/><rect x="216" y="114" width="16" height="8" fill="rgb(85,85,85)"/><rect x="232" y="114" width="8" height="8" fill="rgb(113,113,113)"/><rect x="240" y="114" width="16" height="8" fill="rgb(85,85,85)"/><rect x="32" y="122" width="48" height="8" fill="rgb(113,113,113)"/><rect x="80" y="122" width="8" height="8" fill="rgb(85,85,85)"/><rect x="88" y="122" width="16" height="8" fill="rgb(113,113,113)"/><rect x="104" y="122" width="16" height="8" fill="rgb(170,170,170)"/><rect x="120" y="122" width="16" height="8" fill="rgb(142,142,142)"/><rect x="136" y="122" width="24" height="8" fill="rgb(113,113,113)"/><rect x="160" y="122" width="48" height="8" fill="rgb(142,142,142)"/><rect x="208" y="122" width="8" height="8" fill="rgb(113,113,113)"/><rect x="216" y="122" width="16" height="8" fill="rgb(85,85,85)"/><rect x="232" y="122" width="8" height="8" fill="rgb(113,113,113)"/><rect x="240" y="122" width="16" height="8" fill="rgb(85,85,85)"/><rect x="32" y="130" width="40" height="8" fill="rgb(113,113,113)"/><rect x="72" y="130" width="16" height="8" fill="rgb(85,85,85)"/><rect x="88" y="130" width="24" height="8" fill="rgb(113,113,113)"/><rect x="112" y="130" width="8" height="8" fill="rgb(142,142,142)"/><rect x="120" y="130" width="32" height="8" fill="rgb(170,170,170)"/><rect x="152" y="130" width="56" height="8" fill="rgb(142,142,142)"/><rect x="208" y="130" width="8" height="8" fill="rgb(113,113,113)"/><rect x="216" y="130" width="16" height="8" fill="rgb(85,85,85)"/><rect x="232" y="130" width="8" height="8" fill="rgb(113,113,113)"/><rect x="240" y="130" width="16" height="8" fill="rgb(85,85,85)"/><rect x="32" y="138" width="40" height="8" fill="rgb(113,113,113)"/><rect x="72" y="138" width="16" height="8" fill="rgb(85,85,85)"/><rect x="88" y="138" width="24" height="8" fill="rgb(113,113,113)"/><rect x="112" y="138" width="8" height="8" fill="rgb(142,142,142)"/><rect x="120" y="138" width="32" height="8" fill="rgb(170,170,170)"/><rect x="152" y="138" width="56" height="8" fill="rgb(142,142,142)"/><rect x="208" y="138" width="8" height="8" fill="rgb(113,113,113)"/><rect x="216" y="138" width="16" height="8" fill="rgb(85,85,85)"/><rect x="232" y="138" width="8" height="8" fill="rgb(113,113,113)"/><rect x="240" y="138" width="16" height="8" fill="rgb(85,85,85)"/>
<polygon points="38.0,118.2 66.0,118.8 75.0,119.6 90.0,120.2 105.0,120.8 118.0,122.0 118.0,142.0 38.0,142.0" fill="rgb(108,108,108)"/>
</g></g>
<text x="201.8" y="136.4" font-family="Liberation Serif" font-size="6.5" fill="#111" stroke="#111" stroke-width="0.12">GPP (gC·m<tspan dy="-2" font-size="4.2">-2</tspan><tspan dy="2">·8d</tspan><tspan dy="-2" font-size="4.2">-1</tspan><tspan dy="2">)</tspan></text>
<rect x="202" y="143.7" width="8.3" height="18" fill="url(#cbar)"/>
<text x="213" y="146.4" class="s">150</text>
<text x="213" y="163.6" class="s">50</text>
<text x="37.00" y="162.8" text-anchor="middle" class="s">0</text>
<text x="45.04" y="162.8" text-anchor="middle" class="s">15</text>
<text x="53.08" y="162.8" text-anchor="middle" class="s">30</text>
<text x="69.15" y="162.8" text-anchor="middle" class="s">60</text>
<text x="85.22" y="162.8" text-anchor="middle" class="s">90</text>
<text x="101.30" y="162.8" text-anchor="middle" class="s">120</text>
<rect x="37.00" y="165.8" width="4.02" height="2.0" fill="#000"/>
<rect x="41.02" y="165.8" width="4.02" height="2.0" fill="#ccc"/>
<rect x="45.04" y="165.8" width="4.02" height="2.0" fill="#000"/>
<rect x="49.06" y="165.8" width="4.02" height="2.0" fill="#ccc"/>
<rect x="53.08" y="165.8" width="16.07" height="2.0" fill="#000"/>
<rect x="69.15" y="165.8" width="16.07" height="2.0" fill="#ccc"/>
<rect x="85.22" y="165.8" width="16.07" height="2.0" fill="#000"/>
<rect x="37.0" y="165.8" width="64.30" height="2.0" fill="none" stroke="#000" stroke-width="0.3"/>
<text x="102.80" y="168" class="s">km</text>
</g>
<rect x="303.5" y="16" width="223.0" height="159.5" fill="none" stroke="#909090" stroke-width="1.3"/>
<line x1="310.7" y1="14.2" x2="310.7" y2="16" stroke="#444" stroke-width="0.6"/>
<line x1="310.7" y1="175.5" x2="310.7" y2="177.3" stroke="#444" stroke-width="0.6"/>
<line x1="370.2" y1="14.2" x2="370.2" y2="16" stroke="#444" stroke-width="0.6"/>
<line x1="370.2" y1="175.5" x2="370.2" y2="177.3" stroke="#444" stroke-width="0.6"/>
<line x1="429.7" y1="14.2" x2="429.7" y2="16" stroke="#444" stroke-width="0.6"/>
<line x1="429.7" y1="175.5" x2="429.7" y2="177.3" stroke="#444" stroke-width="0.6"/>
<line x1="489.2" y1="14.2" x2="489.2" y2="16" stroke="#444" stroke-width="0.6"/>
<line x1="489.2" y1="175.5" x2="489.2" y2="177.3" stroke="#444" stroke-width="0.6"/>
<line x1="301.7" y1="18.8" x2="303.5" y2="18.8" stroke="#444" stroke-width="0.6"/>
<line x1="526.5" y1="18.8" x2="528.3" y2="18.8" stroke="#444" stroke-width="0.6"/>
<line x1="301.7" y1="79.1" x2="303.5" y2="79.1" stroke="#444" stroke-width="0.6"/>
<line x1="526.5" y1="79.1" x2="528.3" y2="79.1" stroke="#444" stroke-width="0.6"/>
<line x1="301.7" y1="139.4" x2="303.5" y2="139.4" stroke="#444" stroke-width="0.6"/>
<line x1="526.5" y1="139.4" x2="528.3" y2="139.4" stroke="#444" stroke-width="0.6"/><g transform="translate(0,194.5)">
<text x="4.7" y="9.50" font-family="Liberation Serif" font-size="9.3" fill="#111" stroke="#111" stroke-width="0.28">(c)</text>
<text x="38.2" y="13.0" text-anchor="middle" class="t">107°00'E</text>
<text x="38.2" y="181.4" text-anchor="middle" class="t">107°00'E</text>
<text x="97.7" y="13.0" text-anchor="middle" class="t">108°00'E</text>
<text x="97.7" y="181.4" text-anchor="middle" class="t">108°00'E</text>
<text x="157.2" y="13.0" text-anchor="middle" class="t">109°00'E</text>
<text x="157.2" y="181.4" text-anchor="middle" class="t">109°00'E</text>
<text x="216.7" y="13.0" text-anchor="middle" class="t">110°00'E</text>
<text x="216.7" y="181.4" text-anchor="middle" class="t">110°00'E</text>
<text x="29.6" y="20.3" text-anchor="end" class="t">36°00'N</text>
<text x="256.6" y="20.3" class="t">36°00'N</text>
<text x="29.6" y="80.6" text-anchor="end" class="t">35°00'N</text>
<text x="256.6" y="80.6" class="t">35°00'N</text>
<text x="29.6" y="140.9" text-anchor="end" class="t">34°00'N</text>
<text x="256.6" y="140.9" class="t">34°00'N</text>
<text x="45" y="27.9" text-anchor="middle" font-family="Liberation Sans" font-size="6.3" fill="#111" stroke="#111" stroke-width="0.2">N</text>
<path d="M44.8,30.2 L40.4,45.6 L44.8,40.2 Z" fill="#111"/>
<path d="M44.8,30.2 L49.2,44.8 L44.8,40.2 Z" fill="none" stroke="#111" stroke-width="0.6" stroke-linejoin="round"/>
<g mask="url(#mapclip)"><g filter="url(#cmc)">
<rect x="32" y="42" width="24" height="8" fill="rgb(227,227,227)"/><rect x="56" y="42" width="16" height="8" fill="rgb(198,198,198)"/><rect x="72" y="42" width="48" height="8" fill="rgb(57,57,57)"/><rect x="120" y="42" width="16" height="8" fill="rgb(28,28,28)"/><rect x="136" y="42" width="16" height="8" fill="rgb(113,113,113)"/><rect x="152" y="42" width="48" height="8" fill="rgb(57,57,57)"/><rect x="200" y="42" width="16" height="8" fill="rgb(28,28,28)"/><rect x="216" y="42" width="40" height="8" fill="rgb(113,113,113)"/><rect x="32" y="50" width="24" height="8" fill="rgb(227,227,227)"/><rect x="56" y="50" width="16" height="8" fill="rgb(198,198,198)"/><rect x="72" y="50" width="48" height="8" fill="rgb(57,57,57)"/><rect x="120" y="50" width="16" height="8" fill="rgb(28,28,28)"/><rect x="136" y="50" width="16" height="8" fill="rgb(113,113,113)"/><rect x="152" y="50" width="48" height="8" fill="rgb(57,57,57)"/><rect x="200" y="50" width="16" height="8" fill="rgb(28,28,28)"/><rect x="216" y="50" width="40" height="8" fill="rgb(113,113,113)"/><rect x="32" y="58" width="24" height="8" fill="rgb(227,227,227)"/><rect x="56" y="58" width="16" height="8" fill="rgb(198,198,198)"/><rect x="72" y="58" width="48" height="8" fill="rgb(57,57,57)"/><rect x="120" y="58" width="16" height="8" fill="rgb(28,28,28)"/><rect x="136" y="58" width="16" height="8" fill="rgb(113,113,113)"/><rect x="152" y="58" width="16" height="8" fill="rgb(57,57,57)"/><rect x="168" y="58" width="8" height="8" fill="rgb(113,113,113)"/><rect x="176" y="58" width="40" height="8" fill="rgb(85,85,85)"/><rect x="216" y="58" width="16" height="8" fill="rgb(113,113,113)"/><rect x="232" y="58" width="8" height="8" fill="rgb(85,85,85)"/><rect x="240" y="58" width="16" height="8" fill="rgb(57,57,57)"/><rect x="32" y="66" width="24" height="8" fill="rgb(227,227,227)"/><rect x="56" y="66" width="16" height="8" fill="rgb(198,198,198)"/><rect x="72" y="66" width="48" height="8" fill="rgb(57,57,57)"/><rect x="120" y="66" width="16" height="8" fill="rgb(28,28,28)"/><rect x="136" y="66" width="16" height="8" fill="rgb(113,113,113)"/><rect x="152" y="66" width="16" height="8" fill="rgb(57,57,57)"/><rect x="168" y="66" width="8" height="8" fill="rgb(113,113,113)"/><rect x="176" y="66" width="8" height="8" fill="rgb(142,142,142)"/><rect x="184" y="66" width="16" height="8" fill="rgb(113,113,113)"/><rect x="200" y="66" width="8" height="8" fill="rgb(85,85,85)"/><rect x="208" y="66" width="8" height="8" fill="rgb(113,113,113)"/><rect x="216" y="66" width="16" height="8" fill="rgb(85,85,85)"/><rect x="232" y="66" width="24" height="8" fill="rgb(57,57,57)"/><rect x="32" y="74" width="24" height="8" fill="rgb(227,227,227)"/><rect x="56" y="74" width="40" height="8" fill="rgb(198,198,198)"/><rect x="96" y="74" width="24" height="8" fill="rgb(113,113,113)"/><rect x="120" y="74" width="16" height="8" fill="rgb(28,28,28)"/><rect x="136" y="74" width="8" height="8" fill="rgb(198,198,198)"/><rect x="144" y="74" width="8" height="8" fill="rgb(170,170,170)"/><rect x="152" y="74" width="8" height="8" fill="rgb(142,142,142)"/><rect x="160" y="74" width="8" height="8" fill="rgb(170,170,170)"/><rect x="168" y="74" width="8" height="8" fill="rgb(198,198,198)"/><rect x="176" y="74" width="16" height="8" fill="rgb(170,170,170)"/><rect x="192" y="74" width="8" height="8" fill="rgb(142,142,142)"/><rect x="200" y="74" width="8" height="8" fill="rgb(113,113,113)"/><rect x="208" y="74" width="8" height="8" fill="rgb(85,85,85)"/><rect x="216" y="74" width="8" height="8" fill="rgb(113,113,113)"/><rect x="224" y="74" width="8" height="8" fill="rgb(85,85,85)"/><rect x="232" y="74" width="24" height="8" fill="rgb(57,57,57)"/><rect x="32" y="82" width="24" height="8" fill="rgb(227,227,227)"/><rect x="56" y="82" width="40" height="8" fill="rgb(198,198,198)"/><rect x="96" y="82" width="16" height="8" fill="rgb(170,170,170)"/><rect x="112" y="82" width="8" height="8" fill="rgb(142,142,142)"/><rect x="120" y="82" width="8" height="8" fill="rgb(85,85,85)"/><rect x="128" y="82" width="8" height="8" fill="rgb(57,57,57)"/><rect x="136" y="82" width="16" height="8" fill="rgb(170,170,170)"/><rect x="152" y="82" width="8" height="8" fill="rgb(142,142,142)"/><rect x="160" y="82" width="8" height="8" fill="rgb(198,198,198)"/><rect x="168" y="82" width="8" height="8" fill="rgb(227,227,227)"/><rect x="176" y="82" width="8" height="8" fill="rgb(198,198,198)"/><rect x="184" y="82" width="16" height="8" fill="rgb(170,170,170)"/><rect x="200" y="82" width="8" height="8" fill="rgb(113,113,113)"/><rect x="208" y="82" width="8" height="8" fill="rgb(85,85,85)"/><rect x="216" y="82" width="16" height="8" fill="rgb(113,113,113)"/><rect x="232" y="82" width="24" height="8" fill="rgb(57,57,57)"/><rect x="32" y="90" width="24" height="8" fill="rgb(227,227,227)"/><rect x="56" y="90" width="48" height="8" fill="rgb(198,198,198)"/><rect x="104" y="90" width="8" height="8" fill="rgb(170,170,170)"/><rect x="112" y="90" width="8" height="8" fill="rgb(142,142,142)"/><rect x="120" y="90" width="8" height="8" fill="rgb(113,113,113)"/><rect x="128" y="90" width="8" height="8" fill="rgb(85,85,85)"/><rect x="136" y="90" width="8" height="8" fill="rgb(142,142,142)"/><rect x="144" y="90" width="8" height="8" fill="rgb(198,198,198)"/><rect x="152" y="90" width="8" height="8" fill="rgb(142,142,142)"/><rect x="160" y="90" width="8" height="8" fill="rgb(170,170,170)"/><rect x="168" y="90" width="16" height="8" fill="rgb(198,198,198)"/><rect x="184" y="90" width="8" height="8" fill="rgb(170,170,170)"/><rect x="192" y="90" width="8" height="8" fill="rgb(142,142,142)"/><rect x="200" y="90" width="8" height="8" fill="rgb(113,113,113)"/><rect x="208" y="90" width="16" height="8" fill="rgb(85,85,85)"/><rect x="224" y="90" width="32" height="8" fill="rgb(142,142,142)"/><rect x="32" y="98" width="24" height="8" fill="rgb(227,227,227)"/><rect x="56" y="98" width="24" height="8" fill="rgb(198,198,198)"/><rect x="80" y="98" width="16" height="8" fill="rgb(227,227,227)"/><rect x="96" y="98" width="16" height="8" fill="rgb(198,198,198)"/><rect x="112" y="98" width="8" height="8" fill="rgb(170,170,170)"/><rect x="120" y="98" width="16" height="8" fill="rgb(142,142,142)"/><rect x="136" y="98" width="8" height="8" fill="rgb(170,170,170)"/><rect x="144" y="98" width="8" height="8" fill="rgb(227,227,227)"/><rect x="152" y="98" width="32" height="8" fill="rgb(198,198,198)"/><rect x="184" y="98" width="16" height="8" fill="rgb(170,170,170)"/><rect x="200" y="98" width="16" height="8" fill="rgb(142,142,142)"/><rect x="216" y="98" width="16" height="8" fill="rgb(113,113,113)"/><rect x="232" y="98" width="8" height="8" fill="rgb(142,142,142)"/><rect x="240" y="98" width="16" height="8" fill="rgb(113,113,113)"/><rect x="32" y="106" width="16" height="8" fill="rgb(198,198,198)"/><rect x="48" y="106" width="16" height="8" fill="rgb(227,227,227)"/><rect x="64" y="106" width="40" height="8" fill="rgb(255,255,255)"/><rect x="104" y="106" width="16" height="8" fill="rgb(227,227,227)"/><rect x="120" y="106" width="24" height="8" fill="rgb(198,198,198)"/><rect x="144" y="106" width="8" height="8" fill="rgb(142,142,142)"/><rect x="152" y="106" width="8" height="8" fill="rgb(198,198,198)"/><rect x="160" y="106" width="8" height="8" fill="rgb(227,227,227)"/><rect x="168" y="106" width="8" height="8" fill="rgb(198,198,198)"/><rect x="176" y="106" width="8" height="8" fill="rgb(170,170,170)"/><rect x="184" y="106" width="24" height="8" fill="rgb(142,142,142)"/><rect x="208" y="106" width="48" height="8" fill="rgb(113,113,113)"/><rect x="32" y="114" width="16" height="8" fill="rgb(170,170,170)"/><rect x="48" y="114" width="8" height="8" fill="rgb(198,198,198)"/><rect x="56" y="114" width="8" height="8" fill="rgb(227,227,227)"/><rect x="64" y="114" width="40" height="8" fill="rgb(255,255,255)"/><rect x="104" y="114" width="16" height="8" fill="rgb(227,227,227)"/><rect x="120" y="114" width="8" height="8" fill="rgb(198,198,198)"/><rect x="128" y="114" width="8" height="8" fill="rgb(170,170,170)"/><rect x="136" y="114" width="8" height="8" fill="rgb(113,113,113)"/><rect x="144" y="114" width="8" height="8" fill="rgb(142,142,142)"/><rect x="152" y="114" width="8" height="8" fill="rgb(170,170,170)"/><rect x="160" y="114" width="16" height="8" fill="rgb(198,198,198)"/><rect x="176" y="114" width="8" height="8" fill="rgb(170,170,170)"/><rect x="184" y="114" width="24" height="8" fill="rgb(142,142,142)"/><rect x="208" y="114" width="48" height="8" fill="rgb(113,113,113)"/><rect x="32" y="122" width="16" height="8" fill="rgb(170,170,170)"/><rect x="48" y="122" width="48" height="8" fill="rgb(142,142,142)"/><rect x="96" y="122" width="8" height="8" fill="rgb(170,170,170)"/><rect x="104" y="122" width="16" height="8" fill="rgb(198,198,198)"/><rect x="120" y="122" width="8" height="8" fill="rgb(170,170,170)"/><rect x="128" y="122" width="16" height="8" fill="rgb(142,142,142)"/><rect x="144" y="122" width="8" height="8" fill="rgb(170,170,170)"/><rect x="152" y="122" width="8" height="8" fill="rgb(198,198,198)"/><rect x="160" y="122" width="8" height="8" fill="rgb(227,227,227)"/><rect x="168" y="122" width="8" height="8" fill="rgb(198,198,198)"/><rect x="176" y="122" width="8" height="8" fill="rgb(170,170,170)"/><rect x="184" y="122" width="24" height="8" fill="rgb(142,142,142)"/><rect x="208" y="122" width="48" height="8" fill="rgb(113,113,113)"/><rect x="32" y="130" width="16" height="8" fill="rgb(170,170,170)"/><rect x="48" y="130" width="64" height="8" fill="rgb(142,142,142)"/><rect x="112" y="130" width="8" height="8" fill="rgb(170,170,170)"/><rect x="120" y="130" width="32" height="8" fill="rgb(198,198,198)"/><rect x="152" y="130" width="8" height="8" fill="rgb(227,227,227)"/><rect x="160" y="130" width="8" height="8" fill="rgb(198,198,198)"/><rect x="168" y="130" width="16" height="8" fill="rgb(170,170,170)"/><rect x="184" y="130" width="24" height="8" fill="rgb(142,142,142)"/><rect x="208" y="130" width="48" height="8" fill="rgb(113,113,113)"/><rect x="32" y="138" width="16" height="8" fill="rgb(170,170,170)"/><rect x="48" y="138" width="64" height="8" fill="rgb(142,142,142)"/><rect x="112" y="138" width="8" height="8" fill="rgb(170,170,170)"/><rect x="120" y="138" width="32" height="8" fill="rgb(198,198,198)"/><rect x="152" y="138" width="8" height="8" fill="rgb(227,227,227)"/><rect x="160" y="138" width="8" height="8" fill="rgb(198,198,198)"/><rect x="168" y="138" width="16" height="8" fill="rgb(170,170,170)"/><rect x="184" y="138" width="24" height="8" fill="rgb(142,142,142)"/><rect x="208" y="138" width="48" height="8" fill="rgb(113,113,113)"/>
<polygon points="38.0,118.2 66.0,118.8 75.0,119.6 90.0,120.2 106.0,120.8 106.0,142.0 38.0,142.0" fill="rgb(156,156,156)"/>
</g></g>
<text x="201.8" y="136.4" font-family="Liberation Serif" font-size="6.5" fill="#111" stroke="#111" stroke-width="0.12">GPP (gC·m<tspan dy="-2" font-size="4.2">-2</tspan><tspan dy="2">·8d</tspan><tspan dy="-2" font-size="4.2">-1</tspan><tspan dy="2">)</tspan></text>
<rect x="202" y="143.7" width="8.3" height="18" fill="url(#cbar)"/>
<text x="213" y="146.4" class="s">150</text>
<text x="213" y="163.6" class="s">50</text>
<text x="37.00" y="162.8" text-anchor="middle" class="s">0</text>
<text x="45.04" y="162.8" text-anchor="middle" class="s">15</text>
<text x="53.08" y="162.8" text-anchor="middle" class="s">30</text>
<text x="69.15" y="162.8" text-anchor="middle" class="s">60</text>
<text x="85.22" y="162.8" text-anchor="middle" class="s">90</text>
<text x="101.30" y="162.8" text-anchor="middle" class="s">120</text>
<rect x="37.00" y="165.8" width="4.02" height="2.0" fill="#000"/>
<rect x="41.02" y="165.8" width="4.02" height="2.0" fill="#ccc"/>
<rect x="45.04" y="165.8" width="4.02" height="2.0" fill="#000"/>
<rect x="49.06" y="165.8" width="4.02" height="2.0" fill="#ccc"/>
<rect x="53.08" y="165.8" width="16.07" height="2.0" fill="#000"/>
<rect x="69.15" y="165.8" width="16.07" height="2.0" fill="#ccc"/>
<rect x="85.22" y="165.8" width="16.07" height="2.0" fill="#000"/>
<rect x="37.0" y="165.8" width="64.30" height="2.0" fill="none" stroke="#000" stroke-width="0.3"/>
<text x="102.80" y="168" class="s">km</text>
</g>
<rect x="31" y="210.5" width="223.5" height="159.5" fill="none" stroke="#909090" stroke-width="1.3"/>
<line x1="38.2" y1="208.7" x2="38.2" y2="210.5" stroke="#444" stroke-width="0.6"/>
<line x1="38.2" y1="370" x2="38.2" y2="371.8" stroke="#444" stroke-width="0.6"/>
<line x1="97.7" y1="208.7" x2="97.7" y2="210.5" stroke="#444" stroke-width="0.6"/>
<line x1="97.7" y1="370" x2="97.7" y2="371.8" stroke="#444" stroke-width="0.6"/>
<line x1="157.2" y1="208.7" x2="157.2" y2="210.5" stroke="#444" stroke-width="0.6"/>
<line x1="157.2" y1="370" x2="157.2" y2="371.8" stroke="#444" stroke-width="0.6"/>
<line x1="216.7" y1="208.7" x2="216.7" y2="210.5" stroke="#444" stroke-width="0.6"/>
<line x1="216.7" y1="370" x2="216.7" y2="371.8" stroke="#444" stroke-width="0.6"/>
<line x1="29.2" y1="213.3" x2="31" y2="213.3" stroke="#444" stroke-width="0.6"/>
<line x1="254.5" y1="213.3" x2="256.3" y2="213.3" stroke="#444" stroke-width="0.6"/>
<line x1="29.2" y1="273.6" x2="31" y2="273.6" stroke="#444" stroke-width="0.6"/>
<line x1="254.5" y1="273.6" x2="256.3" y2="273.6" stroke="#444" stroke-width="0.6"/>
<line x1="29.2" y1="333.9" x2="31" y2="333.9" stroke="#444" stroke-width="0.6"/>
<line x1="254.5" y1="333.9" x2="256.3" y2="333.9" stroke="#444" stroke-width="0.6"/><g transform="translate(272.3,194.5)">
<text x="4.7" y="9.50" font-family="Liberation Serif" font-size="9.3" fill="#111" stroke="#111" stroke-width="0.28">(d)</text>
<text x="38.2" y="13.0" text-anchor="middle" class="t">107°00'E</text>
<text x="38.2" y="181.4" text-anchor="middle" class="t">107°00'E</text>
<text x="97.7" y="13.0" text-anchor="middle" class="t">108°00'E</text>
<text x="97.7" y="181.4" text-anchor="middle" class="t">108°00'E</text>
<text x="157.2" y="13.0" text-anchor="middle" class="t">109°00'E</text>
<text x="157.2" y="181.4" text-anchor="middle" class="t">109°00'E</text>
<text x="216.7" y="13.0" text-anchor="middle" class="t">110°00'E</text>
<text x="216.7" y="181.4" text-anchor="middle" class="t">110°00'E</text>
<text x="29.6" y="20.3" text-anchor="end" class="t">36°00'N</text>
<text x="256.6" y="20.3" class="t">36°00'N</text>
<text x="29.6" y="80.6" text-anchor="end" class="t">35°00'N</text>
<text x="256.6" y="80.6" class="t">35°00'N</text>
<text x="29.6" y="140.9" text-anchor="end" class="t">34°00'N</text>
<text x="256.6" y="140.9" class="t">34°00'N</text>
<text x="45" y="27.9" text-anchor="middle" font-family="Liberation Sans" font-size="6.3" fill="#111" stroke="#111" stroke-width="0.2">N</text>
<path d="M44.8,30.2 L40.4,45.6 L44.8,40.2 Z" fill="#111"/>
<path d="M44.8,30.2 L49.2,44.8 L44.8,40.2 Z" fill="none" stroke="#111" stroke-width="0.6" stroke-linejoin="round"/>
<g mask="url(#mapclip)"><g filter="url(#cmd)">
<rect x="32" y="42" width="24" height="8" fill="rgb(170,170,170)"/><rect x="56" y="42" width="64" height="8" fill="rgb(142,142,142)"/><rect x="120" y="42" width="16" height="8" fill="rgb(113,113,113)"/><rect x="136" y="42" width="32" height="8" fill="rgb(227,227,227)"/><rect x="168" y="42" width="24" height="8" fill="rgb(142,142,142)"/><rect x="192" y="42" width="8" height="8" fill="rgb(85,85,85)"/><rect x="200" y="42" width="16" height="8" fill="rgb(57,57,57)"/><rect x="216" y="42" width="8" height="8" fill="rgb(85,85,85)"/><rect x="224" y="42" width="16" height="8" fill="rgb(113,113,113)"/><rect x="240" y="42" width="16" height="8" fill="rgb(85,85,85)"/><rect x="32" y="50" width="24" height="8" fill="rgb(170,170,170)"/><rect x="56" y="50" width="64" height="8" fill="rgb(142,142,142)"/><rect x="120" y="50" width="16" height="8" fill="rgb(113,113,113)"/><rect x="136" y="50" width="32" height="8" fill="rgb(227,227,227)"/><rect x="168" y="50" width="24" height="8" fill="rgb(142,142,142)"/><rect x="192" y="50" width="8" height="8" fill="rgb(85,85,85)"/><rect x="200" y="50" width="16" height="8" fill="rgb(57,57,57)"/><rect x="216" y="50" width="8" height="8" fill="rgb(85,85,85)"/><rect x="224" y="50" width="16" height="8" fill="rgb(113,113,113)"/><rect x="240" y="50" width="16" height="8" fill="rgb(85,85,85)"/><rect x="32" y="58" width="24" height="8" fill="rgb(170,170,170)"/><rect x="56" y="58" width="64" height="8" fill="rgb(142,142,142)"/><rect x="120" y="58" width="16" height="8" fill="rgb(113,113,113)"/><rect x="136" y="58" width="40" height="8" fill="rgb(227,227,227)"/><rect x="176" y="58" width="16" height="8" fill="rgb(198,198,198)"/><rect x="192" y="58" width="8" height="8" fill="rgb(170,170,170)"/><rect x="200" y="58" width="8" height="8" fill="rgb(85,85,85)"/><rect x="208" y="58" width="16" height="8" fill="rgb(57,57,57)"/><rect x="224" y="58" width="16" height="8" fill="rgb(85,85,85)"/><rect x="240" y="58" width="16" height="8" fill="rgb(57,57,57)"/><rect x="32" y="66" width="24" height="8" fill="rgb(170,170,170)"/><rect x="56" y="66" width="64" height="8" fill="rgb(142,142,142)"/><rect x="120" y="66" width="16" height="8" fill="rgb(113,113,113)"/><rect x="136" y="66" width="40" height="8" fill="rgb(227,227,227)"/><rect x="176" y="66" width="8" height="8" fill="rgb(198,198,198)"/><rect x="184" y="66" width="8" height="8" fill="rgb(142,142,142)"/><rect x="192" y="66" width="8" height="8" fill="rgb(113,113,113)"/><rect x="200" y="66" width="16" height="8" fill="rgb(85,85,85)"/><rect x="216" y="66" width="8" height="8" fill="rgb(57,57,57)"/><rect x="224" y="66" width="8" height="8" fill="rgb(85,85,85)"/><rect x="232" y="66" width="24" height="8" fill="rgb(57,57,57)"/><rect x="32" y="74" width="24" height="8" fill="rgb(170,170,170)"/><rect x="56" y="74" width="16" height="8" fill="rgb(142,142,142)"/><rect x="72" y="74" width="24" height="8" fill="rgb(198,198,198)"/><rect x="96" y="74" width="24" height="8" fill="rgb(142,142,142)"/><rect x="120" y="74" width="16" height="8" fill="rgb(113,113,113)"/><rect x="136" y="74" width="16" height="8" fill="rgb(198,198,198)"/><rect x="152" y="74" width="8" height="8" fill="rgb(142,142,142)"/><rect x="160" y="74" width="8" height="8" fill="rgb(198,198,198)"/><rect x="168" y="74" width="8" height="8" fill="rgb(142,142,142)"/><rect x="176" y="74" width="16" height="8" fill="rgb(113,113,113)"/><rect x="192" y="74" width="8" height="8" fill="rgb(85,85,85)"/><rect x="200" y="74" width="8" height="8" fill="rgb(113,113,113)"/><rect x="208" y="74" width="24" height="8" fill="rgb(85,85,85)"/><rect x="232" y="74" width="24" height="8" fill="rgb(57,57,57)"/><rect x="32" y="82" width="24" height="8" fill="rgb(170,170,170)"/><rect x="56" y="82" width="16" height="8" fill="rgb(142,142,142)"/><rect x="72" y="82" width="24" height="8" fill="rgb(198,198,198)"/><rect x="96" y="82" width="24" height="8" fill="rgb(255,255,255)"/><rect x="120" y="82" width="24" height="8" fill="rgb(227,227,227)"/><rect x="144" y="82" width="8" height="8" fill="rgb(198,198,198)"/><rect x="152" y="82" width="16" height="8" fill="rgb(142,142,142)"/><rect x="168" y="82" width="8" height="8" fill="rgb(113,113,113)"/><rect x="176" y="82" width="8" height="8" fill="rgb(142,142,142)"/><rect x="184" y="82" width="8" height="8" fill="rgb(113,113,113)"/><rect x="192" y="82" width="16" height="8" fill="rgb(85,85,85)"/><rect x="208" y="82" width="8" height="8" fill="rgb(113,113,113)"/><rect x="216" y="82" width="16" height="8" fill="rgb(85,85,85)"/><rect x="232" y="82" width="24" height="8" fill="rgb(57,57,57)"/><rect x="32" y="90" width="24" height="8" fill="rgb(170,170,170)"/><rect x="56" y="90" width="16" height="8" fill="rgb(142,142,142)"/><rect x="72" y="90" width="24" height="8" fill="rgb(198,198,198)"/><rect x="96" y="90" width="40" height="8" fill="rgb(142,142,142)"/><rect x="136" y="90" width="8" height="8" fill="rgb(198,198,198)"/><rect x="144" y="90" width="8" height="8" fill="rgb(142,142,142)"/><rect x="152" y="90" width="40" height="8" fill="rgb(113,113,113)"/><rect x="192" y="90" width="8" height="8" fill="rgb(85,85,85)"/><rect x="200" y="90" width="8" height="8" fill="rgb(57,57,57)"/><rect x="208" y="90" width="8" height="8" fill="rgb(113,113,113)"/><rect x="216" y="90" width="8" height="8" fill="rgb(85,85,85)"/><rect x="224" y="90" width="32" height="8" fill="rgb(57,57,57)"/><rect x="32" y="98" width="24" height="8" fill="rgb(170,170,170)"/><rect x="56" y="98" width="72" height="8" fill="rgb(142,142,142)"/><rect x="128" y="98" width="8" height="8" fill="rgb(113,113,113)"/><rect x="136" y="98" width="8" height="8" fill="rgb(85,85,85)"/><rect x="144" y="98" width="8" height="8" fill="rgb(57,57,57)"/><rect x="152" y="98" width="8" height="8" fill="rgb(85,85,85)"/><rect x="160" y="98" width="8" height="8" fill="rgb(57,57,57)"/><rect x="168" y="98" width="8" height="8" fill="rgb(85,85,85)"/><rect x="176" y="98" width="8" height="8" fill="rgb(113,113,113)"/><rect x="184" y="98" width="16" height="8" fill="rgb(85,85,85)"/><rect x="200" y="98" width="8" height="8" fill="rgb(113,113,113)"/><rect x="208" y="98" width="16" height="8" fill="rgb(85,85,85)"/><rect x="224" y="98" width="32" height="8" fill="rgb(113,113,113)"/><rect x="32" y="106" width="16" height="8" fill="rgb(198,198,198)"/><rect x="48" y="106" width="80" height="8" fill="rgb(142,142,142)"/><rect x="128" y="106" width="8" height="8" fill="rgb(113,113,113)"/><rect x="136" y="106" width="16" height="8" fill="rgb(85,85,85)"/><rect x="152" y="106" width="8" height="8" fill="rgb(57,57,57)"/><rect x="160" y="106" width="8" height="8" fill="rgb(85,85,85)"/><rect x="168" y="106" width="24" height="8" fill="rgb(113,113,113)"/><rect x="192" y="106" width="8" height="8" fill="rgb(85,85,85)"/><rect x="200" y="106" width="56" height="8" fill="rgb(113,113,113)"/><rect x="32" y="114" width="16" height="8" fill="rgb(113,113,113)"/><rect x="48" y="114" width="64" height="8" fill="rgb(142,142,142)"/><rect x="112" y="114" width="16" height="8" fill="rgb(113,113,113)"/><rect x="128" y="114" width="16" height="8" fill="rgb(85,85,85)"/><rect x="144" y="114" width="16" height="8" fill="rgb(142,142,142)"/><rect x="160" y="114" width="8" height="8" fill="rgb(170,170,170)"/><rect x="168" y="114" width="16" height="8" fill="rgb(227,227,227)"/><rect x="184" y="114" width="8" height="8" fill="rgb(170,170,170)"/><rect x="192" y="114" width="64" height="8" fill="rgb(113,113,113)"/><rect x="32" y="122" width="40" height="8" fill="rgb(113,113,113)"/><rect x="72" y="122" width="8" height="8" fill="rgb(198,198,198)"/><rect x="80" y="122" width="8" height="8" fill="rgb(227,227,227)"/><rect x="88" y="122" width="8" height="8" fill="rgb(198,198,198)"/><rect x="96" y="122" width="8" height="8" fill="rgb(170,170,170)"/><rect x="104" y="122" width="8" height="8" fill="rgb(142,142,142)"/><rect x="112" y="122" width="8" height="8" fill="rgb(113,113,113)"/><rect x="120" y="122" width="8" height="8" fill="rgb(85,85,85)"/><rect x="128" y="122" width="16" height="8" fill="rgb(113,113,113)"/><rect x="144" y="122" width="16" height="8" fill="rgb(142,142,142)"/><rect x="160" y="122" width="8" height="8" fill="rgb(198,198,198)"/><rect x="168" y="122" width="16" height="8" fill="rgb(227,227,227)"/><rect x="184" y="122" width="8" height="8" fill="rgb(142,142,142)"/><rect x="192" y="122" width="64" height="8" fill="rgb(113,113,113)"/><rect x="32" y="130" width="40" height="8" fill="rgb(113,113,113)"/><rect x="72" y="130" width="8" height="8" fill="rgb(170,170,170)"/><rect x="80" y="130" width="16" height="8" fill="rgb(198,198,198)"/><rect x="96" y="130" width="16" height="8" fill="rgb(170,170,170)"/><rect x="112" y="130" width="8" height="8" fill="rgb(142,142,142)"/><rect x="120" y="130" width="8" height="8" fill="rgb(113,113,113)"/><rect x="128" y="130" width="64" height="8" fill="rgb(142,142,142)"/><rect x="192" y="130" width="64" height="8" fill="rgb(113,113,113)"/><rect x="32" y="138" width="40" height="8" fill="rgb(113,113,113)"/><rect x="72" y="138" width="8" height="8" fill="rgb(170,170,170)"/><rect x="80" y="138" width="16" height="8" fill="rgb(198,198,198)"/><rect x="96" y="138" width="16" height="8" fill="rgb(170,170,170)"/><rect x="112" y="138" width="8" height="8" fill="rgb(142,142,142)"/><rect x="120" y="138" width="8" height="8" fill="rgb(113,113,113)"/><rect x="128" y="138" width="64" height="8" fill="rgb(142,142,142)"/><rect x="192" y="138" width="64" height="8" fill="rgb(113,113,113)"/>
</g></g>
<text x="201.8" y="136.4" font-family="Liberation Serif" font-size="6.5" fill="#111" stroke="#111" stroke-width="0.12">GPP (gC·m<tspan dy="-2" font-size="4.2">-2</tspan><tspan dy="2">·8d</tspan><tspan dy="-2" font-size="4.2">-1</tspan><tspan dy="2">)</tspan></text>
<rect x="202" y="143.7" width="8.3" height="18" fill="url(#cbar)"/>
<text x="213" y="146.4" class="s">150</text>
<text x="213" y="163.6" class="s">50</text>
<text x="37.00" y="162.8" text-anchor="middle" class="s">0</text>
<text x="45.04" y="162.8" text-anchor="middle" class="s">15</text>
<text x="53.08" y="162.8" text-anchor="middle" class="s">30</text>
<text x="69.15" y="162.8" text-anchor="middle" class="s">60</text>
<text x="85.22" y="162.8" text-anchor="middle" class="s">90</text>
<text x="101.30" y="162.8" text-anchor="middle" class="s">120</text>
<rect x="37.00" y="165.8" width="4.02" height="2.0" fill="#000"/>
<rect x="41.02" y="165.8" width="4.02" height="2.0" fill="#ccc"/>
<rect x="45.04" y="165.8" width="4.02" height="2.0" fill="#000"/>
<rect x="49.06" y="165.8" width="4.02" height="2.0" fill="#ccc"/>
<rect x="53.08" y="165.8" width="16.07" height="2.0" fill="#000"/>
<rect x="69.15" y="165.8" width="16.07" height="2.0" fill="#ccc"/>
<rect x="85.22" y="165.8" width="16.07" height="2.0" fill="#000"/>
<rect x="37.0" y="165.8" width="64.30" height="2.0" fill="none" stroke="#000" stroke-width="0.3"/>
<text x="102.80" y="168" class="s">km</text>
</g>
<rect x="303.5" y="210.5" width="223.0" height="159.5" fill="none" stroke="#909090" stroke-width="1.3"/>
<line x1="310.7" y1="208.7" x2="310.7" y2="210.5" stroke="#444" stroke-width="0.6"/>
<line x1="310.7" y1="370" x2="310.7" y2="371.8" stroke="#444" stroke-width="0.6"/>
<line x1="370.2" y1="208.7" x2="370.2" y2="210.5" stroke="#444" stroke-width="0.6"/>
<line x1="370.2" y1="370" x2="370.2" y2="371.8" stroke="#444" stroke-width="0.6"/>
<line x1="429.7" y1="208.7" x2="429.7" y2="210.5" stroke="#444" stroke-width="0.6"/>
<line x1="429.7" y1="370" x2="429.7" y2="371.8" stroke="#444" stroke-width="0.6"/>
<line x1="489.2" y1="208.7" x2="489.2" y2="210.5" stroke="#444" stroke-width="0.6"/>
<line x1="489.2" y1="370" x2="489.2" y2="371.8" stroke="#444" stroke-width="0.6"/>
<line x1="301.7" y1="213.3" x2="303.5" y2="213.3" stroke="#444" stroke-width="0.6"/>
<line x1="526.5" y1="213.3" x2="528.3" y2="213.3" stroke="#444" stroke-width="0.6"/>
<line x1="301.7" y1="273.6" x2="303.5" y2="273.6" stroke="#444" stroke-width="0.6"/>
<line x1="526.5" y1="273.6" x2="528.3" y2="273.6" stroke="#444" stroke-width="0.6"/>
<line x1="301.7" y1="333.9" x2="303.5" y2="333.9" stroke="#444" stroke-width="0.6"/>
<line x1="526.5" y1="333.9" x2="528.3" y2="333.9" stroke="#444" stroke-width="0.6"/>
</svg>
</body></html>
